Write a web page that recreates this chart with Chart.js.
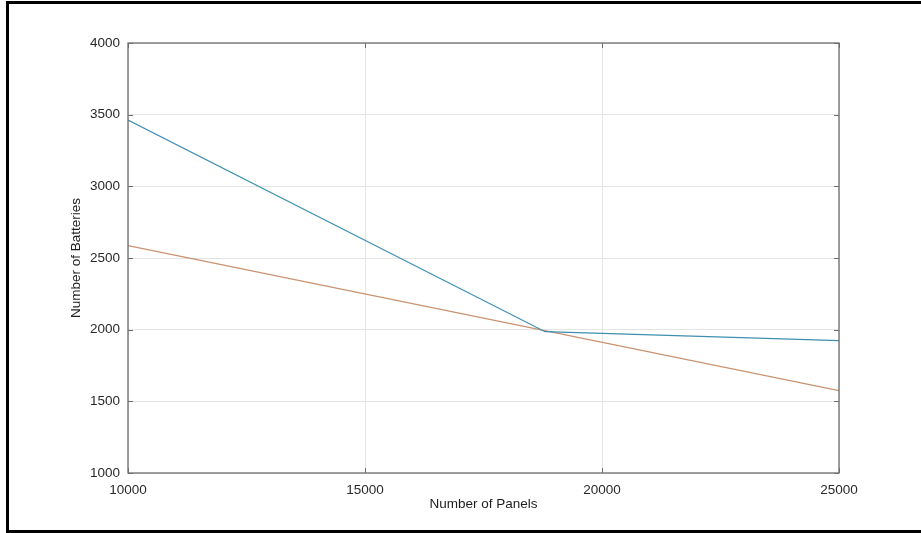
<!DOCTYPE html>
<html>
<head>
<meta charset="utf-8">
<script src="https://cdn.jsdelivr.net/npm/chart.js@4/dist/chart.umd.min.js"></script>
<style>
    html, body { margin: 0; padding: 0; background: #fff; overflow: hidden; }
    #wrap { position: relative; width: 921px; height: 533px; }
    #frame {
        position: absolute; left: 6px; top: 1px; width: 940px; height: 526px;
        border: 3px solid #000; pointer-events: none;
    }
    canvas { position: absolute; left: 0; top: 0; }
</style>
</head>
<body>
<div id="wrap">
    <canvas id="battery_canvas" width="921" height="533"></canvas>
    <div id="frame"></div>
</div>
<script>
// panels vs. batteries
const panel_counts_a = [10000, 18800, 25000];
const battery_counts_a = [3463, 1986, 1923];

const panel_counts_b = [10000, 25000];
const battery_counts_b = [2586, 1574];

const x_ticks = [10000, 15000, 20000, 25000];
const y_ticks = [1000, 1500, 2000, 2500, 3000, 3500, 4000];

const font = {family: "'Liberation Sans', Arial, sans-serif", size: 13.5};

function to_points(xs, ys) {
    return xs.map((x, i) => ({x: x, y: ys[i]}));
}

// box around the plot area with inward tick marks on every side
const box_plugin = {
    id: 'box_plugin',
    afterDatasetsDraw(chart) {
        const {ctx, chartArea: a, scales} = chart;
        ctx.save();
        ctx.strokeStyle = '#6e6e6e';
        ctx.lineWidth = 1.3;
        ctx.strokeRect(a.left, a.top, a.right - a.left, a.bottom - a.top);
        ctx.lineWidth = 1;
        ctx.beginPath();
        for (const v of x_ticks) {
            const px = Math.round(scales.x.getPixelForValue(v)) + 0.5;
            ctx.moveTo(px, a.bottom); ctx.lineTo(px, a.bottom - 5);
            ctx.moveTo(px, a.top); ctx.lineTo(px, a.top + 5);
        }
        for (const v of y_ticks) {
            const py = Math.round(scales.y.getPixelForValue(v)) + 0.5;
            ctx.moveTo(a.left, py); ctx.lineTo(a.left + 5, py);
            ctx.moveTo(a.right, py); ctx.lineTo(a.right - 5, py);
        }
        ctx.stroke();
        ctx.restore();
    }
};

let config = {
    type: 'scatter',
    data: {
        datasets: [
            {
                label: 'A',
                data: to_points(panel_counts_a, battery_counts_a),
                showLine: true,
                borderColor: '#3d8fb0',
                borderWidth: 1.2,
                pointRadius: 0,
                tension: 0
            },
            {
                label: 'B',
                data: to_points(panel_counts_b, battery_counts_b),
                showLine: true,
                borderColor: '#c9916f',
                borderWidth: 1.2,
                pointRadius: 0,
                tension: 0
            }
        ]
    },
    options: {
        responsive: false,
        animation: false,
        events: [],
        layout: {
            padding: {left: 64, top: 43, right: 82, bottom: 17}
        },
        plugins: {
            legend: {display: false},
            tooltip: {enabled: false}
        },
        scales: {
            x: {
                type: 'linear',
                min: 10000,
                max: 25000,
                afterBuildTicks: (scale) => { scale.ticks = x_ticks.map(v => ({value: v})); },
                afterFit: (scale) => { scale.height = 43; },
                grid: {color: '#e4e4e4', drawTicks: false},
                border: {display: false},
                ticks: {
                    font: font, color: '#2a2a2a', padding: 9, maxRotation: 0,
                    callback: (v) => String(v)
                },
                title: {display: true, text: 'Number of Panels', font: font, color: '#1e1e1e'}
            },
            y: {
                type: 'linear',
                min: 1000,
                max: 4000,
                afterBuildTicks: (scale) => { scale.ticks = y_ticks.map(v => ({value: v})); },
                afterFit: (scale) => { scale.width = 64; },
                grid: {color: '#e4e4e4', drawTicks: false},
                border: {display: false},
                ticks: {
                    font: font, color: '#2a2a2a', padding: 8,
                    callback: (v) => String(v)
                },
                title: {display: true, text: 'Number of Batteries', font: font, color: '#1e1e1e'}
            }
        }
    },
    plugins: [box_plugin]
};

const battery_plot = new Chart(
    document.getElementById('battery_canvas'),
    config
);
</script>
</body>
</html>
